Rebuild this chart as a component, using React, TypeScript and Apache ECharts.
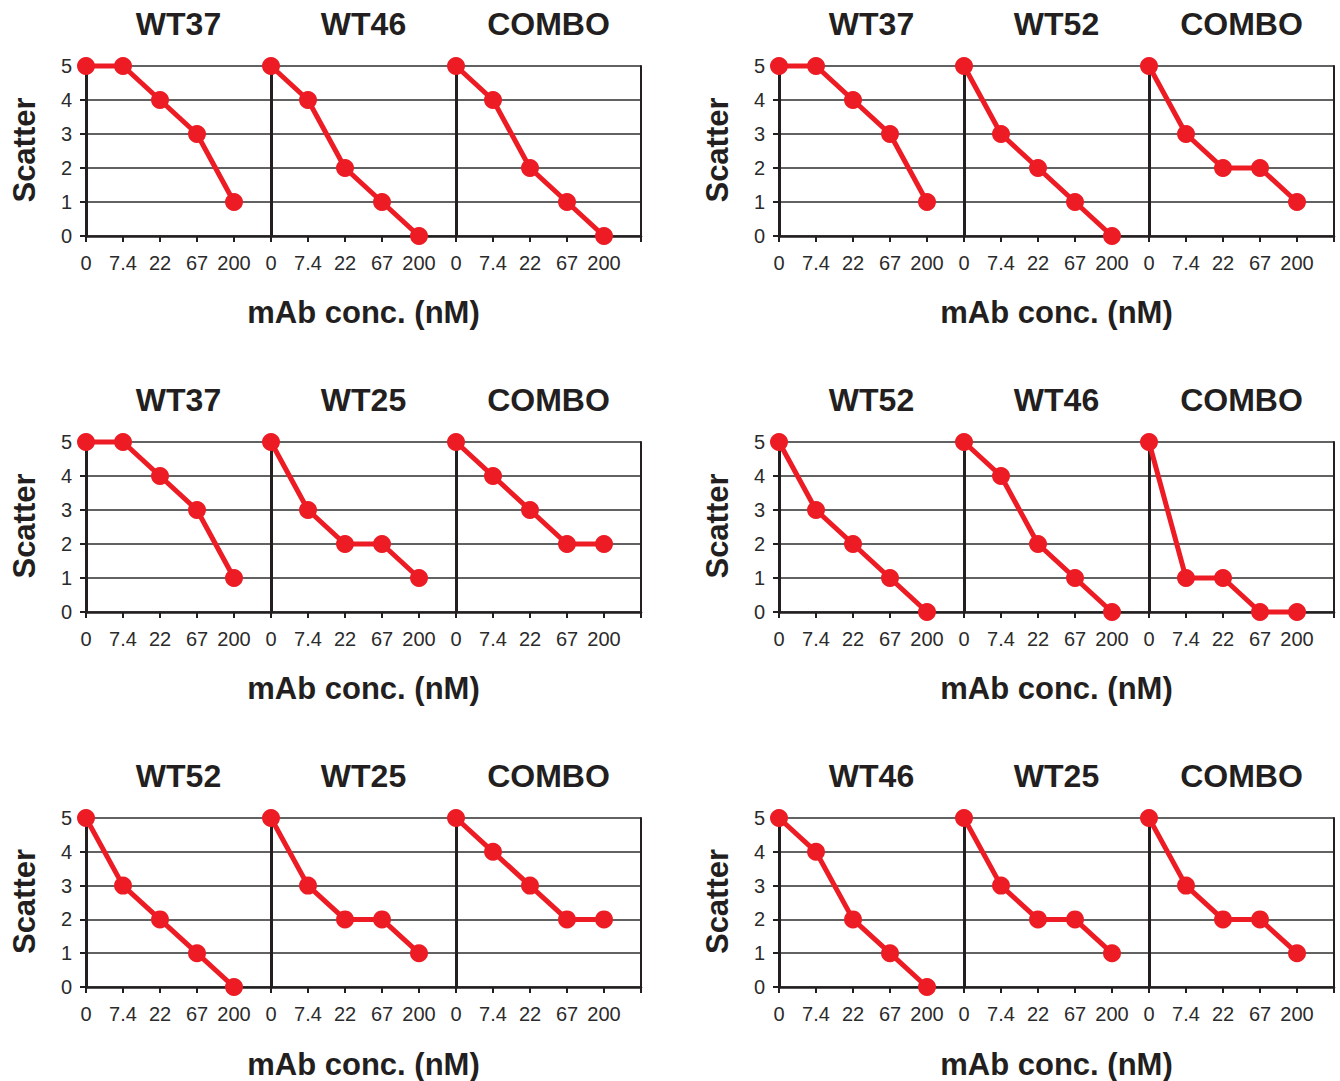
import React, { useEffect, useRef } from "react";
import * as echarts from "echarts";

// ---------- data ----------
const concLabels = ["0", "7.4", "22", "67", "200"];
const scoreTicks = [0, 1, 2, 3, 4, 5];

const scoresWT37 = [5, 5, 4, 3, 1];
const scoresWT46 = [5, 4, 2, 1, 0];
const scoresWT52 = [5, 3, 2, 1, 0];
const scoresWT25 = [5, 3, 2, 2, 1];

const combo37_46 = [5, 4, 2, 1, 0];
const combo37_52 = [5, 3, 2, 2, 1];
const combo37_25 = [5, 4, 3, 2, 2];
const combo52_46 = [5, 1, 1, 0, 0];
const combo52_25 = [5, 4, 3, 2, 2];
const combo46_25 = [5, 3, 2, 2, 1];

const groupNames = [
  ["WT37", "WT46", "COMBO"],
  ["WT37", "WT52", "COMBO"],
  ["WT37", "WT25", "COMBO"],
  ["WT52", "WT46", "COMBO"],
  ["WT52", "WT25", "COMBO"],
  ["WT46", "WT25", "COMBO"],
];
const groupValues = [
  [scoresWT37, scoresWT46, combo37_46],
  [scoresWT37, scoresWT52, combo37_52],
  [scoresWT37, scoresWT25, combo37_25],
  [scoresWT52, scoresWT46, combo52_46],
  [scoresWT52, scoresWT25, combo52_25],
  [scoresWT46, scoresWT25, combo46_25],
];
const xAxisTitle = "mAb conc. (nM)";
const yAxisTitle = "Scatter";

// ---------- layout ----------
const colLeft = [86, 779];
const rowTop = [66, 442, 818];
const rowH = [170, 170, 169];
const panelW = 185;

const RED = "#ed1c24";
const INK = "#231f20";
const BOLD_FONT = "Arial, 'Liberation Sans', Helvetica, sans-serif";
const NARROW_FONT = "'Liberation Sans Narrow', 'Arial Narrow', 'Liberation Sans', sans-serif";

function buildOption() {
  const grids: any[] = [];
  const xAxes: any[] = [];
  const yAxes: any[] = [];
  const series: any[] = [];
  const graphics: any[] = [];

  groupNames.forEach((names, g) => {
    const row = Math.floor(g / 2);
    const col = g % 2;
    const left0 = colLeft[col];
    const top = rowTop[row];
    const h = rowH[row];

    names.forEach((name, p) => {
      const gi = grids.length;
      const left = left0 + p * panelW;
      grids.push({ left, top, width: panelW, height: h, containLabel: false });

      xAxes.push({
        type: "value",
        gridIndex: gi,
        min: 0,
        max: 5,
        interval: 1,
        axisLine: { show: true, onZero: false, lineStyle: { color: INK, width: 2.5 } },
        axisTick: { show: true, length: 6, lineStyle: { color: INK, width: 2 } },
        axisLabel: {
          show: true,
          margin: 17,
          fontFamily: NARROW_FONT,
          fontSize: 20,
          color: "#2b2b2b",
          formatter: (v: number) => (concLabels[v] !== undefined ? concLabels[v] : ""),
        },
        splitLine: { show: false },
      });

      const yi = yAxes.length;
      yAxes.push({
        type: "value",
        gridIndex: gi,
        min: scoreTicks[0],
        max: scoreTicks[scoreTicks.length - 1],
        interval: 1,
        axisLine: { show: true, lineStyle: { color: INK, width: 3 } },
        axisTick: { show: p === 0, length: 6, lineStyle: { color: INK, width: 2 } },
        axisLabel: {
          show: p === 0,
          margin: 14,
          fontFamily: NARROW_FONT,
          fontSize: 20,
          color: "#2b2b2b",
        },
        splitLine: { show: true, lineStyle: { color: "#2e2e2e", width: 1.6 } },
      });
      if (p === 2) {
        yAxes.push({
          type: "value",
          gridIndex: gi,
          position: "right",
          min: 0,
          max: 5,
          interval: 1,
          axisLine: { show: true, lineStyle: { color: INK, width: 2 } },
          axisTick: { show: false },
          axisLabel: { show: false },
          splitLine: { show: false },
        });
      }

      series.push({
        type: "line",
        name: `${name}-${g}`,
        xAxisIndex: gi,
        yAxisIndex: yi,
        data: groupValues[g][p].map((v, k) => [k, v]),
        symbol: "circle",
        symbolSize: 18,
        clip: false,
        z: 5,
        lineStyle: { color: RED, width: 5 },
        itemStyle: { color: RED },
      });

      graphics.push({
        type: "text",
        x: left + panelW / 2,
        y: top - 42,
        style: {
          text: name,
          fontFamily: BOLD_FONT,
          fontWeight: "bold",
          fontSize: 32,
          fill: INK,
          textAlign: "center",
          textVerticalAlign: "middle",
        },
      });
    });

    graphics.push({
      type: "text",
      x: left0 + (panelW * 3) / 2,
      y: top + 246,
      style: {
        text: xAxisTitle,
        fontFamily: BOLD_FONT,
        fontWeight: "bold",
        fontSize: 31,
        fill: INK,
        textAlign: "center",
        textVerticalAlign: "middle",
      },
    });
    graphics.push({
      type: "text",
      x: left0 - 62,
      y: top + h / 2 - 1,
      rotation: Math.PI / 2,
      style: {
        text: yAxisTitle,
        fontFamily: BOLD_FONT,
        fontWeight: "bold",
        fontSize: 31,
        fill: INK,
        textAlign: "center",
        textVerticalAlign: "middle",
      },
    });
  });

  return {
    animation: false,
    backgroundColor: "#ffffff",
    grid: grids,
    xAxis: xAxes,
    yAxis: yAxes,
    series,
    graphic: graphics,
  };
}

export default function App() {
  const ref = useRef<HTMLDivElement>(null);
  useEffect(() => {
    document.body.style.margin = "0";
    if (!ref.current) return;
    const chart = echarts.init(ref.current, undefined, { renderer: "svg" });
    chart.setOption(buildOption());
    return () => chart.dispose();
  }, []);
  return <div ref={ref} style={{ width: 1340, height: 1081 }} />;
}
